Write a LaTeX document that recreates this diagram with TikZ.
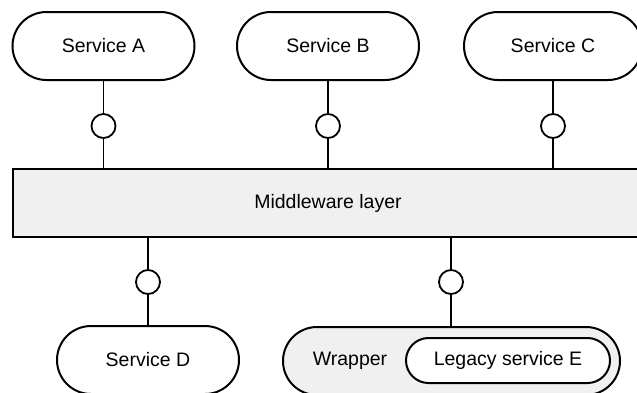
\documentclass[tikz,border=0pt]{standalone}
\usepackage{fontspec}
\setmainfont{Liberation Sans}
\begin{document}
\begin{tikzpicture}[x=1pt,y=-1pt,
  every node/.style={font=\fontsize{19.5}{22}\selectfont, inner sep=0pt},
  pill/.style={draw, line width=2pt, fill=white, rounded corners=34pt,
    minimum width=182pt, minimum height=68pt},
  innerpill/.style={draw, line width=2pt, fill=white, rounded corners=22.5pt,
    minimum width=204pt, minimum height=45pt},
  wrapbox/.style={draw, line width=2pt, fill=black!6, rounded corners=34pt,
    minimum width=337pt, minimum height=68pt},
  layer/.style={draw, line width=2.5pt, fill=black!6,
    minimum width=630pt, minimum height=68pt},
  socket/.style={circle, draw, line width=1.8pt, fill=white, minimum size=24pt},
  link/.style={line width=1.3pt}]
\useasboundingbox (0,0) rectangle (637,392);
\clip (0,0) rectangle (637,392);

% services on top
\node[pill] (sa) at (103.5,46) {Service A};
\node[pill] (sb) at (328,46) {Service B};
\node[pill, minimum width=178pt] (sc) at (553,46) {Service C};

% middleware
\node[layer] (mw) at (328,203) {Middleware layer};

% interface sockets
\node[socket] (ia) at (103.5,126) {};
\node[socket] (ib) at (328,126) {};
\node[socket] (ic) at (553,126) {};
\node[socket] (id) at (148,282) {};
\node[socket] (ie) at (451,282) {};

% lower services
\node[pill] (sd) at (148,360) {Service D};
\node[wrapbox] (wr) at (451.5,361) {};
\node[anchor=center] (wl) at (350,361) {Wrapper};
\node[innerpill] (le) at (508,360.5) {Legacy service E};

% connectors
\foreach \s/\i in {sa/ia, sb/ib, sc/ic} {
  \draw[link] (\s.south -| \i) -- (\i.north);
  \draw[link] (\i.south) -- (\i |- mw.north);
}
\draw[link] (mw.south -| id) -- (id.north);
\draw[link] (id.south) -- (id |- sd.north);
\draw[link] (mw.south -| ie) -- (ie.north);
\draw[link] (ie.south) -- (ie |- wr.north);
\end{tikzpicture}
\end{document}
